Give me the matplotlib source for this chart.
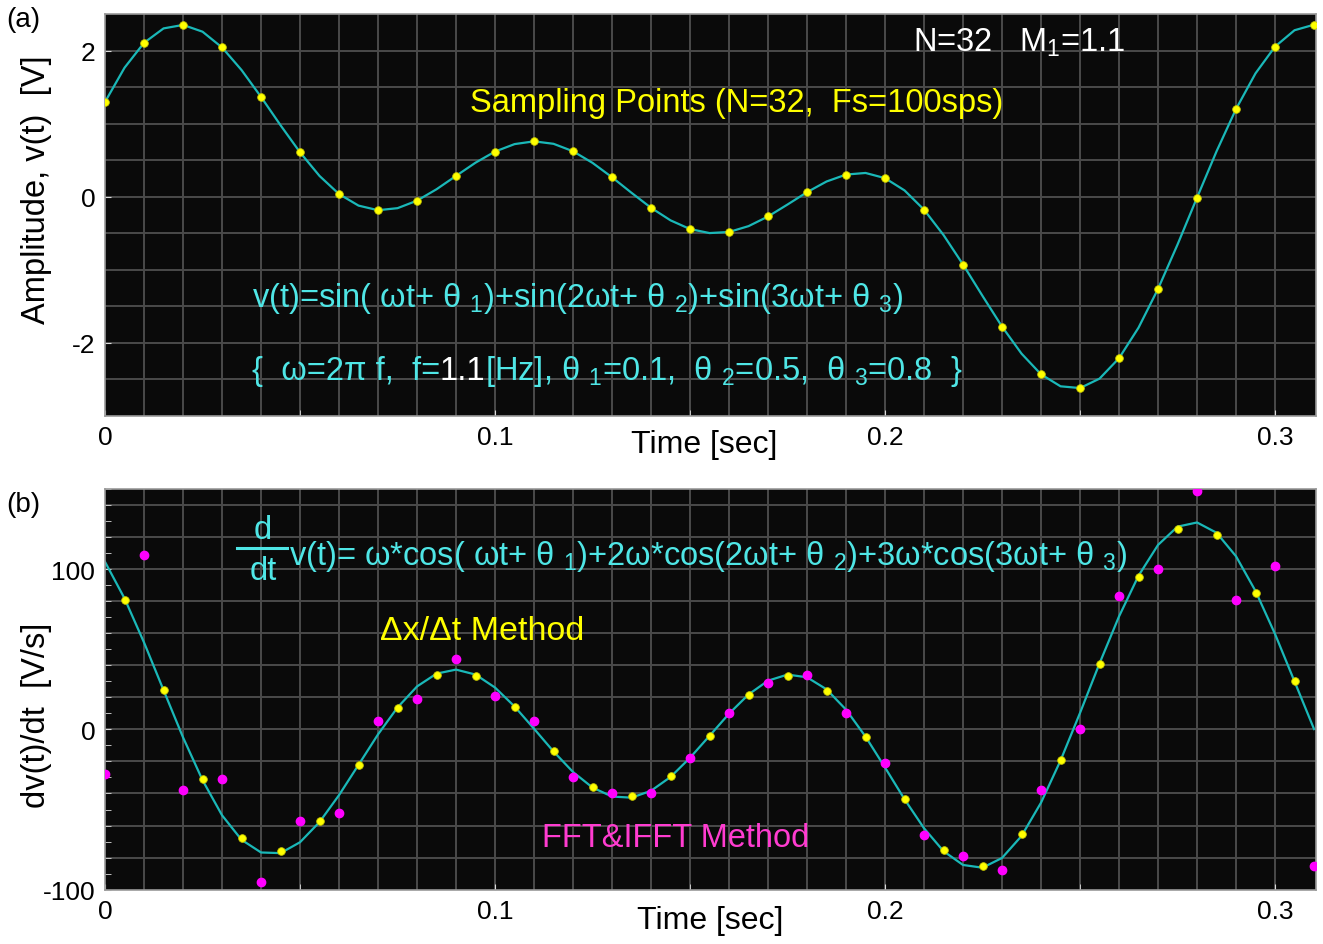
import numpy as np
import matplotlib
matplotlib.use("Agg")
import matplotlib.pyplot as plt
from matplotlib.lines import Line2D
from matplotlib.ticker import MultipleLocator

plt.rcParams['font.family'] = ['Liberation Sans', 'DejaVu Sans']
plt.rcParams['mathtext.fontset'] = 'custom'
plt.rcParams['mathtext.rm'] = 'Liberation Sans'
plt.rcParams['mathtext.it'] = 'Liberation Sans:italic'
plt.rcParams['axes.unicode_minus'] = False

# sampling: N=32 points at 100 sps
fs = 100
n_samples = 32

# yellow sampling points, panel (a)
v_samples = [1.297, 2.106, 2.351, 2.042, 1.365, 0.606, 0.035, -0.186,
             -0.055, 0.284, 0.617, 0.757, 0.621, 0.265, -0.153, -0.444,
             -0.484, -0.272, 0.061, 0.302, 0.253, -0.179, -0.930, -1.780,
             -2.433, -2.621, -2.212, -1.263, -0.013, 1.200, 2.054, 2.354]

# continuous signal read every 5 ms
v_curve = [1.297, 1.765, 2.106, 2.303, 2.351, 2.258, 2.042, 1.733, 1.365, 0.977,
           0.606, 0.283, 0.035, -0.123, -0.186, -0.158, -0.055, 0.101, 0.284, 0.465,
           0.617, 0.719, 0.757, 0.723, 0.621, 0.462, 0.265, 0.052, -0.153, -0.325,
           -0.444, -0.499, -0.484, -0.404, -0.272, -0.108, 0.061, 0.207, 0.302, 0.324,
           0.253, 0.085, -0.179, -0.526, -0.930, -1.360, -1.780, -2.150, -2.433, -2.597,
           -2.621, -2.492, -2.212, -1.794, -1.263, -0.656, -0.013, 0.620, 1.200, 1.688,
           2.054, 2.278, 2.354]

# true derivative read every 5 ms
dv_curve = [104.5, 81.7, 54.2, 24.5, -5.0, -31.7, -53.6, -68.9, -76.8, -77.2,
            -70.4, -57.8, -41.0, -22.1, -3.1, 13.7, 26.8, 34.8, 37.3, 34.2,
            26.1, 14.3, 0.4, -13.8, -26.6, -36.3, -41.9, -42.6, -38.3, -29.7,
            -17.7, -4.0, 9.8, 21.8, 30.4, 34.2, 32.5, 25.0, 12.3, -4.5,
            -23.8, -43.6, -61.7, -76.0, -84.6, -86.3, -80.2, -66.5, -45.7, -19.4,
            10.3, 41.2, 70.5, 95.9, 115.1, 126.5, 129.1, 122.7, 108.0, 86.3,
            59.5, 29.9, 0.2]

# dx/dt method (midpoints between samples)
dv_diff = [80.9, 24.5, -30.9, -67.7, -75.9, -57.1, -22.0, 13.1, 33.9, 33.3,
           14.0, -13.6, -35.7, -41.8, -29.2, -4.0, 21.2, 33.2, 24.2, -4.9,
           -43.3, -75.0, -85.0, -65.3, -18.8, 40.9, 94.9, 125.0, 121.3, 85.4, 29.9]

# FFT & IFFT method (at sample times)
dv_fft = [-28, 109, -38, -31, -95, -57, -52, 5, 19, 44, 21, 5, -30, -40, -40, -18,
          10, 29, 34, 10, -21, -66, -79, -88, -38, 0, 83, 100, 149, 81, 102, -85]

t_samples = np.arange(n_samples) / fs
t_curve = np.arange(len(v_curve)) * 0.005
t_mid = (np.arange(len(dv_diff)) + 0.5) / fs

BG = '#0a0a0a'
GRID = '#4a4a4a'
CURVE = '#1ab8b8'
CYAN = '#4fe6e6'
YEL = '#ffff00'
MAG = '#ff00ff'
MAG_TXT = '#ff3cd0'
FS_TXT = 23.5


def style_axes(ax, ylim, ygrid, yticks, ystep_minor=None):
    ax.set_facecolor(BG)
    ax.set_xlim(0, 0.3105)
    ax.set_ylim(*ylim)
    for x in np.arange(0.01, 0.31, 0.01):
        ax.axvline(x, color=GRID, lw=1.4, zorder=0)
    for y in ygrid:
        ax.axhline(y, color=GRID, lw=1.4, zorder=0)
    ax.set_xticks([0, 0.1, 0.2, 0.3])
    ax.set_xticklabels(['0', '0.1', '0.2', '0.3'])
    ax.set_xticks([0.05, 0.15, 0.25], minor=True)
    ax.set_yticks(yticks)
    ax.set_yticklabels([str(y) for y in yticks])
    if ystep_minor:
        ax.yaxis.set_minor_locator(MultipleLocator(ystep_minor))
    ax.tick_params(which='both', direction='in', color='#dddddd', length=4,
                   labelsize=19, pad=7)
    for s in ax.spines.values():
        s.set_color('#999999')
        s.set_linewidth(1.2)


fig = plt.figure(figsize=(13.23, 9.45), dpi=100)
ax1 = fig.add_axes([0.0794, 0.559, 0.9153, 0.4251])
ax2 = fig.add_axes([0.0794, 0.0575, 0.9153, 0.4240])

# ---- panel (a)
style_axes(ax1, (-3, 2.5), np.arange(-2.5, 2.5, 0.5), [-2, 0, 2])
ax1.plot(t_curve, v_curve, color=CURVE, lw=1.6, zorder=2)
ax1.plot(t_samples, v_samples, 'o', color=YEL, ms=5.5, mec='#c8c800', mew=0.6, zorder=3)
ax1.set_xlabel('Time [sec]', fontsize=23)
ax1.xaxis.set_label_coords(0.495, -0.033)
ax1.set_ylabel('Amplitude, v(t)  [V]', fontsize=23.5)
ax1.yaxis.set_label_coords(-0.044, 0.564)

ax1.text(0.667, 0.909, 'N=32   M$_\\mathrm{1}$=1.1', color='white', fontsize=FS_TXT,
         transform=ax1.transAxes, va='baseline')
ax1.text(0.301, 0.759, 'Sampling Points (N=32,  Fs=100sps)', color=YEL, fontsize=FS_TXT,
         transform=ax1.transAxes, va='baseline')
ax1.text(0.121, 0.274,
         'v(t)=sin( ωt+ θ $_\\mathrm{1}$)+sin(2ωt+ θ $_\\mathrm{2}$)+sin(3ωt+ θ $_\\mathrm{3}$)',
         color=CYAN, fontsize=FS_TXT, transform=ax1.transAxes, va='baseline')
p1 = ax1.text(0.121, 0.091, '{  ω=2π f,  f=', color=CYAN, fontsize=FS_TXT,
              transform=ax1.transAxes, va='baseline')
p2 = ax1.text(0, 0.091, '1.1', color='white', fontsize=FS_TXT,
              transform=ax1.transAxes, va='baseline')
p3 = ax1.text(0, 0.091,
              '[Hz], θ $_\\mathrm{1}$=0.1,  θ $_\\mathrm{2}$=0.5,  θ $_\\mathrm{3}$=0.8  }',
              color=CYAN, fontsize=FS_TXT, transform=ax1.transAxes, va='baseline')

# ---- panel (b)
style_axes(ax2, (-100, 150), np.arange(-80, 150, 20), [-100, 0, 100], ystep_minor=10)
ax2.plot(t_curve, dv_curve, color=CURVE, lw=1.6, zorder=2)
ax2.plot(t_samples, dv_fft, 'o', color=MAG, ms=6, zorder=3)
ax2.plot(t_mid, dv_diff, 'o', color=YEL, ms=5.5, mec='#c8c800', mew=0.6, zorder=4)
ax2.set_xlabel('Time [sec]', fontsize=23)
ax2.xaxis.set_label_coords(0.5, -0.038)
ax2.set_ylabel('dv(t)/dt  [V/s]', fontsize=23.5)
ax2.yaxis.set_label_coords(-0.044, 0.438)

ax2.text(0.1305, 0.900, 'd', color=CYAN, fontsize=FS_TXT, transform=ax2.transAxes,
         ha='center', va='center')
ax2.text(0.1305, 0.797, 'dt', color=CYAN, fontsize=FS_TXT, transform=ax2.transAxes,
         ha='center', va='center')
ax2.add_line(Line2D([0.109, 0.150], [0.852, 0.852], color=CYAN, lw=2.2,
                    transform=ax2.transAxes))
ax2.text(0.152, 0.812,
         'v(t)= ω*cos( ωt+ θ $_\\mathrm{1}$)+2ω*cos(2ωt+ θ $_\\mathrm{2}$)+3ω*cos(3ωt+ θ $_\\mathrm{3}$)',
         color=CYAN, fontsize=FS_TXT, transform=ax2.transAxes, va='baseline')
ax2.text(0.227, 0.626, 'Δx/Δt Method', color=YEL, fontsize=24.5,
         transform=ax2.transAxes, va='baseline')
ax2.text(0.361, 0.110, 'FFT&IFFT Method', color=MAG_TXT, fontsize=FS_TXT,
         transform=ax2.transAxes, va='baseline')

fig.text(0.005, 1 - 20 / 945, '(a)', fontsize=20, va='center')
fig.text(0.005, 1 - 505 / 945, '(b)', fontsize=20, va='center')

# place the coloured pieces of the parameter line one after another
fig.canvas.draw()
r = fig.canvas.get_renderer()
inv = ax1.transAxes.inverted()
x2 = inv.transform((p1.get_window_extent(r).x1, 0))[0]
p2.set_x(x2)
fig.canvas.draw()
x3 = inv.transform((p2.get_window_extent(r).x1, 0))[0]
p3.set_x(x3)

fig.savefig('out.png', dpi=100)
